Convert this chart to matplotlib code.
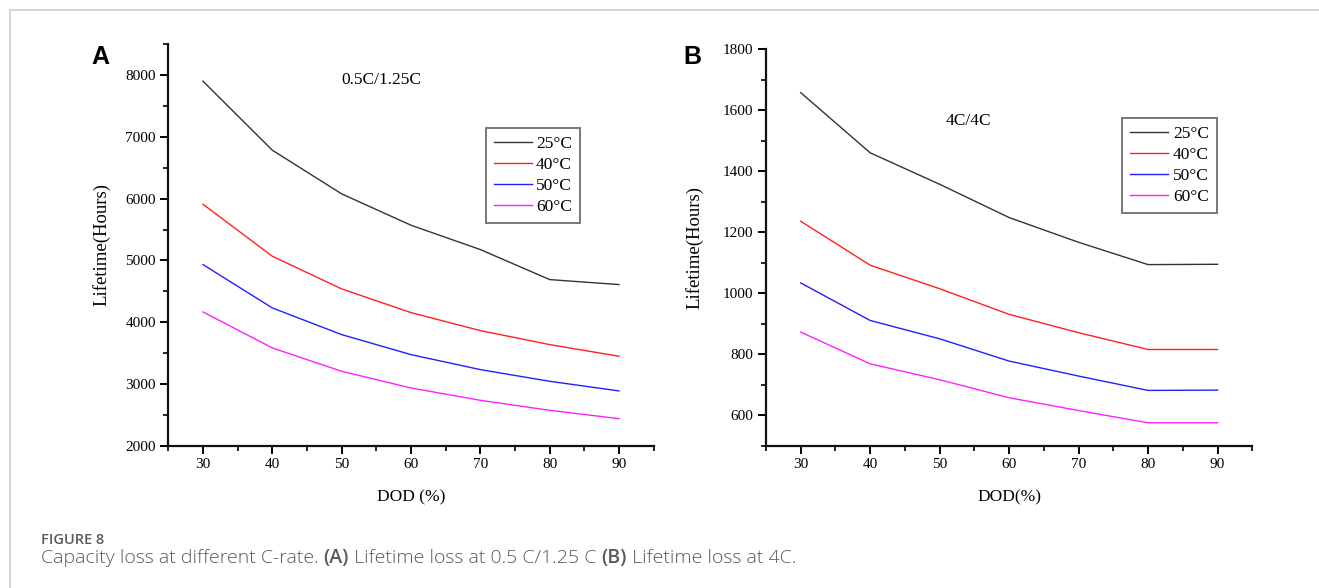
import matplotlib
matplotlib.use("Agg")
import matplotlib.pyplot as plt
from matplotlib.lines import Line2D
from matplotlib.ticker import MultipleLocator

dod = [30, 40, 50, 60, 70, 80, 90]
temps = ["25°C", "40°C", "50°C", "60°C"]
colors = ["#333333", "#ff2020", "#2020ff", "#ff20ff"]

# panel A: 0.5C/1.25C
life_a = [
    [7903, 6785, 6078, 5570, 5176, 4690, 4609],
    [5910, 5068, 4539, 4155, 3864, 3637, 3448],
    [4933, 4231, 3799, 3475, 3232, 3043, 2887],
    [4166, 3583, 3205, 2935, 2735, 2573, 2438],
]
# panel B: 4C/4C
life_b = [
    [1657, 1460, 1357, 1248, 1167, 1094, 1095],
    [1236, 1092, 1015, 931, 871, 816, 816],
    [1034, 911, 851, 778, 729, 682, 683],
    [873, 769, 717, 658, 616, 576, 576],
]

serif = "Liberation Serif"
W, H = 1319, 588

fig = plt.figure(figsize=(W / 100, H / 100), dpi=100)

# light frame lines of the page
fig.add_artist(Line2D([9.5 / W, 1], [1 - 9.5 / H] * 2, color="#d0d0d0", lw=1.2))
fig.add_artist(Line2D([9.5 / W] * 2, [0, 1 - 9.5 / H], color="#d0d0d0", lw=1.2))


def panel(rect, data, ylim, ymaj, ymin, note, note_xy, leg_xy, xlabel, letter, letter_x, ylabpad):
    ax = fig.add_axes(rect)
    for vals, c, t in zip(data, colors, temps):
        ax.plot(dod, vals, color=c, lw=1.0, label=t)
    ax.set_xlim(25, 95)
    ax.xaxis.set_minor_locator(MultipleLocator(5))
    ax.set_xticks(dod)
    first = ylim[0] if ylim[0] % ymaj == 0 else ylim[0] + ymin
    ax.set_yticks(list(range(first, ylim[1] + 1, ymaj)))
    ax.yaxis.set_minor_locator(MultipleLocator(ymin))
    ax.set_ylim(*ylim)
    for s in ["top", "right"]:
        ax.spines[s].set_visible(False)
    for s in ["left", "bottom"]:
        ax.spines[s].set_linewidth(1.6)
        ax.spines[s].set_color("#111111")
    ax.tick_params(which="major", direction="out", length=6, width=1.4, labelsize=11, pad=3)
    ax.tick_params(which="minor", direction="out", length=3.5, width=1.2)
    for lab in ax.get_xticklabels() + ax.get_yticklabels():
        lab.set_fontfamily(serif)
    ax.set_xlabel(xlabel, fontfamily=serif, fontsize=12.5, labelpad=13)
    ax.set_ylabel("Lifetime(Hours)", fontfamily=serif, fontsize=13.5, labelpad=ylabpad)
    ax.text(note_xy[0], note_xy[1], note, transform=ax.transAxes, fontfamily=serif,
            fontsize=12.5, ha="center", va="center")
    leg = ax.legend(loc="upper left", bbox_to_anchor=leg_xy, frameon=True, fancybox=False,
                    prop={"family": serif, "size": 12.5}, handlelength=2.2,
                    handletextpad=0.25, borderpad=0.45, labelspacing=0.28,
                    borderaxespad=0)
    leg.get_frame().set_edgecolor("#555555")
    leg.get_frame().set_linewidth(1.4)
    fig.text(letter_x, 1 - 57 / H, letter, fontfamily="Liberation Sans", fontweight="bold",
             fontsize=18, ha="center", va="center")
    return ax


panel([168.3 / W, 1 - 445.7 / H, 485.4 / W, 401.4 / H], life_a, (2000, 8500), 1000, 500,
      "0.5C/1.25C", (0.438, 0.91), (0.654, 0.792), "DOD (%)", "A", 100 / W, 11)
panel([766 / W, 1 - 446 / H, 486.3 / W, 397 / H], life_b, (500, 1800), 200, 100,
      "4C/4C", (0.416, 0.818), (0.733, 0.826), "DOD(%)", "B", 692 / W, 14)

cap_font = "Open Sans"
cap_color = "#5a5a5a"
fig.text(41 / W, 1 - 540 / H, "FIGURE 8", fontfamily=cap_font, fontweight="semibold",
         fontsize=10.5, color=cap_color, va="center")

# caption pieces chained one after another
parts = [("Capacity loss at different C-rate. ", "light"), ("(A)", "semibold"),
         (" Lifetime loss at 0.5 C/1.25 C ", "light"), ("(B)", "semibold"),
         (" Lifetime loss at 4C.", "light")]
x0, y0 = 41 / W, 1 - 558 / H
fig.canvas.draw()
renderer = fig.canvas.get_renderer()
for txt, w in parts:
    t = fig.text(x0, y0, txt, fontfamily=cap_font, fontsize=14, color=cap_color,
                 va="center", fontweight=w)
    bb = t.get_window_extent(renderer=renderer)
    x0 = fig.transFigure.inverted().transform((bb.x1, bb.y0))[0]

fig.savefig("out.png", dpi=100)
